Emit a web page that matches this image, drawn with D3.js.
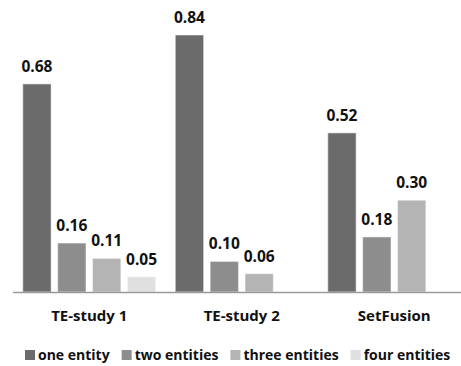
<!DOCTYPE html>
<html>
<head>
<meta charset="utf-8">
<script src="https://cdn.jsdelivr.net/npm/d3@7"></script>
<style>
  html, body { margin: 0; padding: 0; background: #fff; }
  svg { display: block; }
  text { font-family: "Open Sans", "DejaVu Sans", sans-serif; font-weight: 700; fill: #111; }
</style>
</head>
<body>
<svg id="chart" width="461" height="366"></svg>
<script>
// Share of answers per study, by number of entities involved
const studies = ["TE-study 1", "TE-study 2", "SetFusion"];
const seriesNames = ["one entity", "two entities", "three entities", "four entities"];
const oneEntity    = [0.68, 0.84, 0.52];
const twoEntities  = [0.16, 0.10, 0.18];
const threeEntities = [0.11, 0.06, 0.30];
const fourEntities = [0.05, null, null];
const seriesColors = ["#6b6b6b", "#8d8d8d", "#b4b4b4", "#e0e0e0"];

const seriesValues = [oneEntity, twoEntities, threeEntities, fourEntities];

const svg = d3.select("#chart");
const baseY = 292;

const x0 = d3.scaleBand().domain(studies).range([13, 470.5]).paddingInner(0.128).paddingOuter(0.064);
const x1 = d3.scaleBand().domain(seriesNames).range([0, x0.bandwidth()]).paddingInner(0.186);
const y = d3.scaleLinear().domain([0, 1]).range([baseY, baseY - 306]);

const rows = [];
studies.forEach((s, i) => {
  seriesNames.forEach((n, j) => {
    const v = seriesValues[j][i];
    if (v != null) rows.push({ study: s, series: n, value: v, color: seriesColors[j] });
  });
});

const groups = svg.append("g");

groups.selectAll("rect.bar")
  .data(rows)
  .join("rect")
  .attr("class", "bar")
  .attr("x", d => x0(d.study) + x1(d.series))
  .attr("y", d => y(d.value))
  .attr("width", x1.bandwidth())
  .attr("height", d => baseY - y(d.value))
  .attr("fill", d => d.color)
  .attr("stroke", "#fff")
  .attr("stroke-opacity", 0.45)
  .attr("stroke-width", 1.2);

groups.selectAll("text.val")
  .data(rows)
  .join("text")
  .attr("class", "val")
  .attr("x", d => x0(d.study) + x1(d.series) + x1.bandwidth() / 2)
  .attr("y", d => y(d.value) - 12)
  .attr("text-anchor", "middle")
  .style("font-size", "15.5px")
  .text(d => d.value.toFixed(2));

// category axis
const xAxis = d3.axisBottom(x0).tickSize(0).tickPadding(0);
const axisG = svg.append("g").attr("transform", `translate(0,${baseY})`).call(xAxis);
axisG.select(".domain").attr("stroke", "#9a9a9a").attr("stroke-width", 1.5).attr("d", "M13,0.5H461");
axisG.selectAll(".tick text")
  .attr("y", 29)
  .attr("dy", null)
  .style("font-size", "15px")
  .style("font-family", "'Open Sans', sans-serif")
  .style("font-weight", 700)
  .attr("fill", "#111");

// legend
const legend = svg.append("g").attr("transform", "translate(25,360)");
let lx = 0;
seriesNames.forEach((n, j) => {
  const item = legend.append("g").attr("transform", `translate(${lx},0)`);
  item.append("rect").attr("x", 0).attr("y", -10).attr("width", 10).attr("height", 10).attr("fill", seriesColors[j]);
  const t = item.append("text").attr("x", 13).attr("y", 0).style("font-size", "14px").text(n);
  lx += 13 + t.node().getComputedTextLength() + 12;
});
</script>
</body>
</html>
